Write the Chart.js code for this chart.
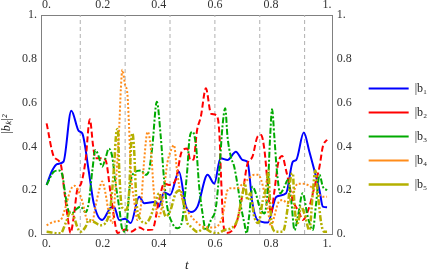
<!DOCTYPE html>
<html>
<head>
<meta charset="utf-8">
<script src="https://cdn.jsdelivr.net/npm/chart.js@4.4.1/dist/chart.umd.min.js"></script>
<style>
  html, body { margin: 0; padding: 0; background: #fff; }
  #wrap { width: 434px; height: 273px; }
</style>
</head>
<body>
<div id="wrap"><canvas id="chart"></canvas></div>
<script>
// tick labels and dashed marker times
const xTicks = [0, 0.2, 0.4, 0.6, 0.8, 1];
const yTicks = [0, 0.2, 0.4, 0.6, 0.8, 1];
const markT = [0.12, 0.28, 0.44, 0.60, 0.76, 0.92];

const seriesNames = ['|b\u2081|\u00b2', '|b\u2082|\u00b2', '|b\u2083|\u00b2', '|b\u2084|\u00b2', '|b\u2085|\u00b2'];

// |b1|^2
const b1T = [0, 0.02, 0.038, 0.06, 0.088, 0.115, 0.127, 0.15, 0.168, 0.198, 0.228, 0.24, 0.259, 0.28, 0.3, 0.33, 0.348, 0.39, 0.40, 0.419, 0.44, 0.472, 0.496, 0.515, 0.538, 0.574, 0.598, 0.62, 0.645, 0.675, 0.699, 0.716, 0.734, 0.752, 0.789, 0.819, 0.854, 0.878, 0.89, 0.917, 0.937, 0.955, 0.973, 0.985, 1.0];
const b1V = [0.224, 0.29, 0.32, 0.33, 0.563, 0.47, 0.46, 0.29, 0.14, 0.064, 0.12, 0.125, 0.064, 0.07, 0.05, 0.17, 0.14, 0.147, 0.125, 0.19, 0.178, 0.284, 0.13, 0.10, 0.125, 0.27, 0.23, 0.346, 0.338, 0.376, 0.338, 0.33, 0.14, 0.064, 0.052, 0.17, 0.186, 0.33, 0.338, 0.463, 0.376, 0.29, 0.2, 0.125, 0.122];

// |b2|^2
const b2T = [0, 0.026, 0.05, 0.064, 0.08, 0.085, 0.097, 0.109, 0.123, 0.139, 0.154, 0.166, 0.174, 0.192, 0.21, 0.228, 0.24, 0.253, 0.28, 0.3, 0.33, 0.352, 0.377, 0.401, 0.419, 0.437, 0.46, 0.483, 0.502, 0.512, 0.524, 0.536, 0.55, 0.568, 0.586, 0.604, 0.616, 0.622, 0.63, 0.64, 0.663, 0.68, 0.699, 0.716, 0.734, 0.752, 0.765, 0.777, 0.789, 0.8, 0.812, 0.825, 0.84, 0.854, 0.878, 0.9, 0.913, 0.937, 0.955, 0.973, 0.985, 1.0];
const b2V = [0.505, 0.353, 0.32, 0.187, 0.033, 0.005, 0.08, 0.2, 0.23, 0.338, 0.524, 0.4, 0.346, 0.346, 0.338, 0.186, 0.08, 0.005, 0.02, 0.01, 0.03, 0.018, 0.02, 0.155, 0.23, 0.224, 0.247, 0.38, 0.39, 0.338, 0.34, 0.47, 0.536, 0.665, 0.55, 0.543, 0.46, 0.26, 0.05, 0.005, 0.018, 0.064, 0.186, 0.32, 0.353, 0.444, 0.452, 0.38, 0.216, 0.094, 0.193, 0.32, 0.356, 0.29, 0.155, 0.10, 0.064, 0.125, 0.216, 0.307, 0.4, 0.43];

// |b3|^2
const b3T = [0, 0.026, 0.044, 0.056, 0.068, 0.08, 0.091, 0.103, 0.121, 0.139, 0.15, 0.163, 0.174, 0.186, 0.198, 0.21, 0.222, 0.234, 0.245, 0.259, 0.27, 0.282, 0.295, 0.306, 0.336, 0.353, 0.365, 0.377, 0.393, 0.407, 0.419, 0.43, 0.448, 0.466, 0.484, 0.494, 0.502, 0.509, 0.52, 0.533, 0.544, 0.556, 0.568, 0.586, 0.604, 0.616, 0.627, 0.637, 0.645, 0.657, 0.669, 0.68, 0.693, 0.705, 0.713, 0.722, 0.734, 0.746, 0.759, 0.777, 0.789, 0.797, 0.804, 0.812, 0.821, 0.833, 0.848, 0.86, 0.872, 0.884, 0.896, 0.913, 0.931, 0.949, 0.961, 0.973, 0.985, 1.0];
const b3V = [0.224, 0.284, 0.29, 0.27, 0.17, 0.10, 0.094, 0.11, 0.125, 0.10, 0.14, 0.29, 0.384, 0.353, 0.307, 0.346, 0.39, 0.353, 0.24, 0.12, 0.02, 0.01, 0.2, 0.27, 0.29, 0.27, 0.29, 0.4, 0.604, 0.444, 0.247, 0.125, 0.05, 0.026, 0.064, 0.186, 0.3, 0.43, 0.467, 0.4, 0.216, 0.094, 0.018, 0.064, 0.125, 0.29, 0.49, 0.574, 0.444, 0.353, 0.307, 0.23, 0.125, 0.05, 0.003, 0.08, 0.216, 0.186, 0.125, 0.094, 0.216, 0.444, 0.57, 0.444, 0.29, 0.186, 0.216, 0.247, 0.155, 0.018, 0.08, 0.186, 0.08, 0.018, 0.14, 0.27, 0.216, 0.2];

// |b4|^2
const b4T = [0, 0.026, 0.05, 0.068, 0.085, 0.1, 0.112, 0.127, 0.145, 0.163, 0.174, 0.186, 0.198, 0.21, 0.222, 0.234, 0.245, 0.259, 0.265, 0.27, 0.28, 0.288, 0.294, 0.3, 0.312, 0.324, 0.336, 0.348, 0.36, 0.371, 0.383, 0.401, 0.413, 0.43, 0.446, 0.454, 0.466, 0.478, 0.496, 0.51, 0.53, 0.56, 0.598, 0.627, 0.645, 0.657, 0.68, 0.699, 0.716, 0.74, 0.755, 0.765, 0.777, 0.789, 0.8, 0.812, 0.825, 0.842, 0.86, 0.878, 0.896, 0.913, 0.931, 0.949, 0.967, 0.985, 1.0];
const b4V = [0.04, 0.056, 0.064, 0.125, 0.2, 0.22, 0.2, 0.15, 0.064, 0.056, 0.125, 0.193, 0.24, 0.186, 0.094, 0.05, 0.2, 0.49, 0.67, 0.75, 0.68, 0.64, 0.49, 0.29, 0.155, 0.064, 0.125, 0.338, 0.467, 0.4, 0.186, 0.08, 0.14, 0.32, 0.39, 0.406, 0.277, 0.186, 0.125, 0.09, 0.06, 0.033, 0.03, 0.08, 0.2, 0.209, 0.209, 0.23, 0.247, 0.27, 0.27, 0.247, 0.186, 0.11, 0.033, 0.08, 0.14, 0.155, 0.14, 0.186, 0.23, 0.23, 0.224, 0.209, 0.186, 0.17, 0.17];

// |b5|^2
const b5T = [0, 0.05, 0.068, 0.085, 0.097, 0.109, 0.121, 0.139, 0.15, 0.168, 0.192, 0.216, 0.228, 0.24, 0.249, 0.254, 0.259, 0.268, 0.282, 0.294, 0.302, 0.306, 0.312, 0.32, 0.336, 0.353, 0.371, 0.39, 0.401, 0.413, 0.425, 0.442, 0.46, 0.478, 0.49, 0.502, 0.515, 0.538, 0.562, 0.586, 0.61, 0.633, 0.657, 0.68, 0.699, 0.707, 0.716, 0.726, 0.74, 0.755, 0.771, 0.783, 0.791, 0.795, 0.804, 0.819, 0.842, 0.86, 0.872, 0.878, 0.884, 0.896, 0.907, 0.919, 0.937, 0.949, 0.958, 0.967, 0.979, 0.99, 1.0];
const b5V = [0.01, 0.003, 0.05, 0.10, 0.08, 0.033, 0.01, 0.033, 0.064, 0.056, 0.04, 0.064, 0.125, 0.3, 0.467, 0.48, 0.29, 0.125, 0.11, 0.186, 0.43, 0.46, 0.384, 0.155, 0.064, 0.05, 0.08, 0.155, 0.186, 0.125, 0.08, 0.11, 0.186, 0.2, 0.125, 0.05, 0.033, 0.01, 0.026, 0.01, 0.003, 0.018, 0.026, 0.064, 0.186, 0.23, 0.155, 0.186, 0.08, 0.05, 0.155, 0.216, 0.29, 0.186, 0.033, 0.01, 0.01, 0.125, 0.27, 0.277, 0.125, 0.05, 0.125, 0.094, 0.018, 0.186, 0.29, 0.186, 0.05, 0.01, 0.01];

const pts = (ts, vs) => ts.map((t, i) => ({ x: t, y: vs[i] }));
const fmt = v => (v === 0 ? '0.' : v === 1 ? '1.' : v.toFixed(1));
const serif = 'Liberation Serif';
const axisGray = '#808080';

const styles = [
    { color: '#0000ff', dash: [], width: 2 },
    { color: '#ff0000', dash: [6, 3], width: 2 },
    { color: '#00aa00', dash: [6, 2, 2, 2], width: 2 },
    { color: '#ff8c1a', dash: [2, 2], width: 2 },
    { color: '#b4b000', dash: [6, 2, 2, 2, 2, 2], width: 2.5 }
];
const seriesData = [[b1T, b1V], [b2T, b2V], [b3T, b3V], [b4T, b4V], [b5T, b5V]];

const datasets = seriesData.map((d, i) => ({
    label: seriesNames[i],
    data: pts(d[0], d[1]),
    borderColor: styles[i].color,
    backgroundColor: styles[i].color,
    borderDash: styles[i].dash,
    borderWidth: styles[i].width,
    pointRadius: 0,
    cubicInterpolationMode: 'monotone',
    order: 5 - i
}));

// dashed vertical markers
markT.forEach(t => {
    datasets.push({
        label: 'mark',
        data: [{ x: t, y: 0 }, { x: t, y: 1 }],
        borderColor: '#b0b0b0',
        borderDash: [4, 3],
        borderWidth: 1,
        pointRadius: 0,
        order: 10
    });
});

const xAxis = (pos) => ({
    type: 'linear',
    position: pos,
    min: -0.02,
    max: 1.02,
    afterBuildTicks: s => { s.ticks = xTicks.map(v => ({ value: v })); },
    afterFit: s => { s.height = pos === 'bottom' ? 39 : 15; },
    grid: { drawOnChartArea: false, drawTicks: false },
    border: { color: axisGray, width: 1 },
    ticks: { callback: fmt, color: '#333', padding: 3, maxRotation: 0, font: { family: serif, size: 12 } },
    title: pos === 'bottom'
        ? { display: true, text: 't', color: '#222', padding: 0, font: { family: serif, size: 13, style: 'italic' } }
        : { display: false }
});

const yAxis = (pos) => ({
    type: 'linear',
    position: pos,
    min: 0,
    max: 1,
    afterBuildTicks: s => { s.ticks = yTicks.map(v => ({ value: v })); },
    afterFit: s => { s.width = pos === 'left' ? 41 : 24; },
    grid: { drawOnChartArea: false, drawTicks: false },
    border: { color: axisGray, width: 1 },
    ticks: { callback: fmt, color: '#333', padding: 4, font: { family: serif, size: 12 } },
    title: pos === 'left'
        ? { display: true, text: '|b\u2096|\u00b2', color: '#222', padding: { top: 0, bottom: 6 }, font: { family: serif, size: 12, style: 'italic' } }
        : { display: false }
});

new Chart(document.getElementById('chart'), {
    type: 'line',
    data: { datasets: datasets },
    options: {
        responsive: true,
        maintainAspectRatio: false,
        animation: false,
        layout: { padding: { right: 6 } },
        scales: {
            x: xAxis('bottom'),
            xTop: xAxis('top'),
            y: yAxis('left'),
            yRight: yAxis('right')
        },
        plugins: {
            tooltip: { enabled: false },
            legend: {
                position: 'right',
                labels: {
                    usePointStyle: true,
                    pointStyle: 'line',
                    pointStyleWidth: 40,
                    boxHeight: 12,
                    padding: 12,
                    color: '#222',
                    font: { family: serif, size: 12 },
                    filter: item => item.text !== 'mark',
                    sort: (a, b) => a.datasetIndex - b.datasetIndex
                }
            }
        }
    }
});
</script>
</body>
</html>
